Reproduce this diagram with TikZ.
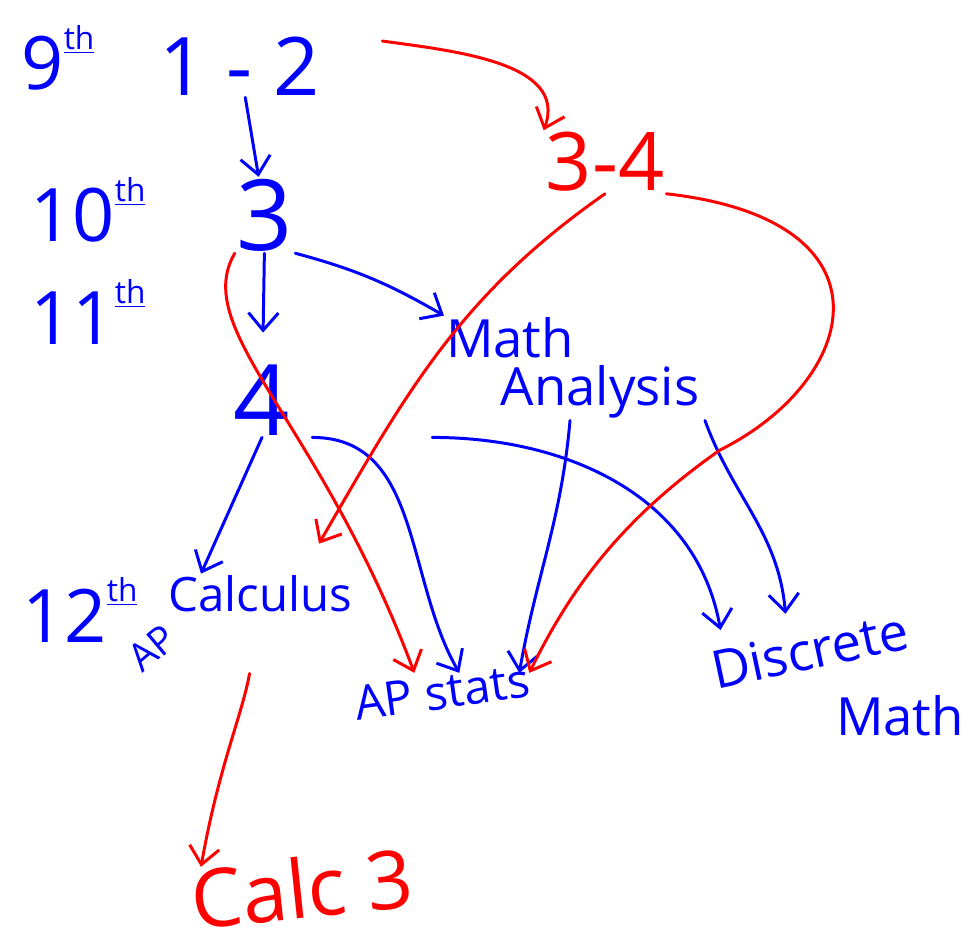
\documentclass[tikz,border=0pt]{standalone}
\usepackage{fontspec}
\setsansfont{Open Sans}
\usetikzlibrary{arrows.meta,positioning}

\newcommand{\gth}{\raisebox{0.55em}{\fontsize{18}{18}\selectfont\underline{th}}}

\begin{document}
\begin{tikzpicture}[
  x=0.02cm, y=-0.02cm,
  font=\sffamily,
  blu/.style={text=blue, inner sep=1pt},
  rd/.style={text=red, inner sep=1pt},
  huge/.style={font=\sffamily\fontsize{56}{58}\selectfont},
  big/.style={font=\sffamily\fontsize{46}{48}\selectfont},
  grd/.style={font=\sffamily\fontsize{42}{44}\selectfont},
  mid/.style={font=\sffamily\fontsize{30}{32}\selectfont},
  sml/.style={font=\sffamily\fontsize{27}{29}\selectfont},
  tiny/.style={font=\sffamily\fontsize{22}{24}\selectfont},
  barr/.style={draw=blue, line width=1.7pt, line cap=round,
    -{Straight Barb[length=3.5mm,width=6mm]}},
  rarr/.style={draw=red, line width=1.7pt, line cap=round,
    -{Straight Barb[length=3.5mm,width=6mm]}}
]
\useasboundingbox (0,0) rectangle (974,948);

% ---- grade labels ----
\node[blu,grd] (g9)  at (58,58)   {9\gth};
\node[blu,grd] (g10) at (88,210)  {10\gth};
\node[blu,grd] (g11) at (88,312)  {11\gth};
\node[blu,grd] (g12) at (80,610)  {12\gth};

% ---- courses ----
\node[blu,big]  (n12)  at (240,66)  {1 - 2};
\node[rd,big]   (n34)  at (605,162) {3-4};
\node[blu,huge] (n3)   at (265,215) {3};
\node[blu,huge] (n4)   at (262,400) {4};
\node[blu,mid]  (nMa)  at (510,338) {Math};
\node[blu,mid]  (nAn)  at (600,392) {Analysis};
\node[blu,sml]  (nCal) at (260,594) {Calculus};
\node[blu,tiny,rotate=40] (nAP) at (152,648) {AP};
\node[blu,sml,rotate=8]   (nSt) at (442,692) {AP stats};
\node[blu,mid,rotate=12]  (nDi) at (810,650) {Discrete};
\node[blu,mid]  (nDm)  at (900,716) {Math};
\node[rd,big,rotate=6]    (nC3) at (302,888) {Calc 3};

% ---- blue arrows ----
\draw[barr] (n12) -- (n3);
\draw[barr,shorten >=0.6cm] (n3) -- (n4);
\draw[barr] (n3.south east) to[out=-15,in=150] (nMa.north west);
\draw[barr] (n4.south) -- ([xshift=0.7cm]nCal.north west);
\draw[barr] ([xshift=0.4cm]n4.south east) to[out=0,in=120] ([xshift=0.4cm]nSt.north);
\draw[barr] ([xshift=2.8cm]n4.south east) to[out=0,in=100] ([xshift=0.3cm,yshift=0.4cm]nDi.north west);
\draw[barr] ([xshift=-0.6cm]nAn.south) to[out=-95,in=80] ([xshift=1.6cm]nSt.north);
\draw[barr] ([xshift=2.1cm]nAn.south) to[out=-70,in=95] ([xshift=-0.4cm,yshift=0.3cm]nDi.north);

% ---- red arrows ----
\draw[rarr] ([xshift=1.2cm,yshift=0.5cm]n12.east) to[out=-8,in=70] (n34.north west);
\draw[rarr] (n3.south west) .. controls (190,330) and (320,420) .. ([xshift=-0.5cm]nSt.north);
\draw[rarr] (n34.south) to[out=-145,in=60] ([xshift=-0.7cm,yshift=0.6cm]nCal.north east);
\draw[rarr] (n34.south east) .. controls (900,220) and (860,380) .. (720,450)
  .. controls (620,520) and (570,590) .. ([xshift=1.8cm]nSt.north);
\draw[rarr,shorten <=1.2cm] (nCal.south) to[out=-100,in=80] ([xshift=0.3cm]nC3.north west);

\end{tikzpicture}
\end{document}
